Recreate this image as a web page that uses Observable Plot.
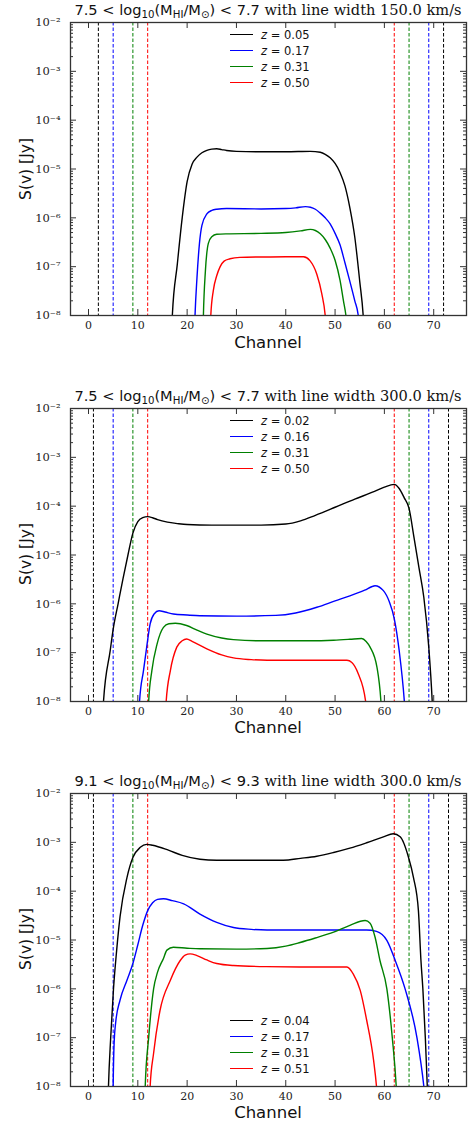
<!DOCTYPE html>
<html><head><meta charset="utf-8">
<script src="https://cdn.jsdelivr.net/npm/d3@7"></script>
<script src="https://cdn.jsdelivr.net/npm/@observablehq/plot@0.6"></script>
<style>
body{margin:0;background:#fff;}
#root{position:relative;width:473px;height:1124px;overflow:hidden;background:#fff;}
.plot{position:absolute;left:0;}
.title{position:absolute;left:0;width:536px;text-align:center;font-size:14.6px;line-height:18px;white-space:nowrap;color:#111;}
.title .m{font-family:"DejaVu Sans";}
.title .t{font-family:"DejaVu Serif";}
.title sub{font-size:70%;vertical-align:-0.28em;line-height:0;}
.ylab{position:absolute;font-family:"DejaVu Sans";font-size:15.5px;white-space:nowrap;transform:translate(-50%,-50%) rotate(-90deg);color:#111;}
.xlab{position:absolute;font-family:"DejaVu Sans";font-size:16.5px;white-space:nowrap;transform:translate(-50%,-50%);color:#111;}
.leg{position:absolute;font-family:"DejaVu Sans";font-size:11.5px;white-space:nowrap;color:#111;}
.leg .sw{position:absolute;left:0;top:-1px;width:23px;height:0;border-top:1.5px solid;}
.leg .tx{position:absolute;left:31px;top:0;transform:translateY(-50%);}
</style></head>
<body><div id="root"></div>
<script>
// ---------- data ----------
const seriesColors = ["#000000", "#0000ff", "#008000", "#ff0000"];
const channelTicks = [0, 10, 20, 30, 40, 50, 60, 70];
const fluxMajorTicks = [1e-8, 1e-7, 1e-6, 1e-5, 1e-4, 1e-3, 1e-2];

// panel 1: 7.5 < log M < 7.7, width 150 km/s
const p1Title = ["7.5", "7.7", "150.0"];
const p1Redshifts = ["0.05", "0.17", "0.31", "0.50"];
const p1Dashes = [[2, 72], [5, 69], [9, 65], [12, 62]];
const p1z005 = [[16.6,1e-9],[17,1e-8],[18,1.1e-7],[19,1e-6],[20,5.5e-6],[21,1.25e-5],[22,1.75e-5],[23,2.15e-5],[24,2.4e-5],[25,2.55e-5],[26,2.6e-5],[27,2.5e-5],[28,2.4e-5],[30,2.3e-5],[35,2.25e-5],[40,2.25e-5],[45,2.3e-5],[47,2.2e-5],[48,2e-5],[49,1.7e-5],[50,1.3e-5],[51,8.5e-6],[52,4.5e-6],[53,1.6e-6],[54,4e-7],[55,5e-8],[55.7,1e-8],[56,3e-9]];
const p1z017 = [[21.3,1e-9],[21.6,1e-8],[22,6e-8],[22.5,3e-7],[23,7e-7],[24,1.2e-6],[25,1.42e-6],[26,1.5e-6],[28,1.55e-6],[35,1.52e-6],[40,1.55e-6],[42,1.6e-6],[44,1.7e-6],[45,1.65e-6],[46,1.5e-6],[47,1.25e-6],[48,1e-6],[49,7.5e-7],[50,4.8e-7],[51,2.8e-7],[52,1.2e-7],[53,5e-8],[54,2e-8],[54.7,1e-8],[55,5e-9]];
const p1z031 = [[23.1,1e-9],[23.3,1e-8],[23.7,8e-8],[24.3,3e-7],[25,4.1e-7],[26,4.6e-7],[28,4.7e-7],[35,4.8e-7],[40,5e-7],[43,5.4e-7],[45,5.8e-7],[46,5.5e-7],[47,4.7e-7],[48,3.6e-7],[49,2.4e-7],[50,1.35e-7],[51,5.3e-8],[51.7,2e-8],[52.2,1e-8],[52.5,5e-9]];
const p1z050 = [[24.6,1e-9],[24.8,1e-8],[25.3,3.2e-8],[26,6.5e-8],[26.7,1e-7],[27.5,1.3e-7],[28.7,1.45e-7],[30.7,1.55e-7],[35,1.58e-7],[40,1.6e-7],[43.6,1.6e-7],[44.9,1.33e-7],[46.3,7e-8],[47.3,2.8e-8],[48,1e-8],[48.3,4e-9]];

// panel 2: 7.5 < log M < 7.7, width 300 km/s
const p2Title = ["7.5", "7.7", "300.0"];
const p2Redshifts = ["0.02", "0.16", "0.31", "0.50"];
const p2Dashes = [[1, 73], [5, 69], [9, 65], [12, 62]];
const p2z002 = [[2.7,1e-9],[3.04,1e-8],[4.4,1.1e-7],[5,3e-7],[6,1e-6],[7,3.3e-6],[8,1e-5],[9,2.8e-5],[10,4.8e-5],[11,5.8e-5],[12,6.1e-5],[13,5.8e-5],[14,5.3e-5],[16,4.7e-5],[18,4.4e-5],[20,4.2e-5],[25,4.1e-5],[30,4.1e-5],[35,4.1e-5],[40,4.3e-5],[43,5e-5],[46,6.5e-5],[50,9.5e-5],[54,1.4e-4],[58,2e-4],[60,2.45e-4],[62,2.8e-4],[63,2.3e-4],[64,1.5e-4],[65,9e-5],[66,2.3e-5],[67,5.6e-6],[68,1.35e-6],[69,1.3e-7],[69.7,1e-8],[70,2e-9]];
const p2z016 = [[10,1e-9],[10.35,1e-8],[11.15,4.3e-8],[11.8,1.3e-7],[12.5,3.9e-7],[13.3,6.2e-7],[14.3,7.2e-7],[15.5,6.8e-7],[17.2,6.2e-7],[20,5.9e-7],[22.6,5.7e-7],[30,5.6e-7],[38,5.8e-7],[42,6.5e-7],[46.3,8.5e-7],[50,1.15e-6],[53,1.46e-6],[56,1.9e-6],[58.1,2.35e-6],[59.8,1.86e-6],[61,1.1e-6],[62,5e-7],[63,1.1e-7],[64.05,1e-8],[64.4,3e-9]];
const p2z031 = [[12,1e-9],[12.2,1e-8],[12.85,4.3e-8],[13.9,1.5e-7],[15.2,3.3e-7],[16.3,3.9e-7],[17.6,4e-7],[19.9,3.6e-7],[22,2.9e-7],[24,2.4e-7],[27,2e-7],[29.4,1.85e-7],[35,1.75e-7],[40,1.75e-7],[45,1.75e-7],[49.7,1.8e-7],[53,1.88e-7],[55.4,1.95e-7],[56.3,1.7e-7],[57.1,1.3e-7],[58.5,5e-8],[59.3,1e-8],[59.6,3e-9]];
const p2z050 = [[15.5,1e-9],[15.75,1e-8],[16.6,4.3e-8],[17.9,1.3e-7],[19,1.75e-7],[19.9,1.9e-7],[21,1.7e-7],[24,1.2e-7],[27,9e-8],[29.4,7.8e-8],[33,7.2e-8],[36.2,7e-8],[45,7e-8],[52.4,7e-8],[53.4,6.3e-8],[54.7,3.7e-8],[56.2,1e-8],[56.5,5e-9]];

// panel 3: 9.1 < log M < 9.3, width 300 km/s
const p3Title = ["9.1", "9.3", "300.0"];
const p3Redshifts = ["0.04", "0.17", "0.31", "0.51"];
const p3Dashes = [[1, 73], [5, 69], [9, 65], [12, 62]];
const p3z004 = [[3.8,1e-9],[4.05,1e-8],[4.5,1e-7],[5.07,1e-6],[5.7,6e-6],[6.4,3e-5],[7.8,1.9e-4],[9,4.9e-4],[10.5,7.9e-4],[11.8,9.1e-4],[13,8.7e-4],[16.2,6.9e-4],[19,5.4e-4],[22.6,4.5e-4],[26,4.3e-4],[30,4.3e-4],[39.5,4.3e-4],[43,4.7e-4],[46.3,5.2e-4],[49.7,6.2e-4],[53,7.6e-4],[56.4,9.8e-4],[59.8,1.29e-3],[61.8,1.5e-3],[63.2,1.3e-3],[64.9,4.9e-4],[65.9,1.9e-4],[66.9,4e-5],[67.4,4e-6],[67.8,1e-6],[68.3,1e-7],[68.7,1e-8],[69,1e-9]];
const p3z017 = [[4.9,1e-9],[5,1e-8],[5.2,8e-8],[5.5,2e-7],[6.4,5.9e-7],[7.8,1.5e-6],[9,3.3e-6],[10,8e-6],[11,2e-5],[12,4e-5],[13,5.8e-5],[14,6.8e-5],[15.2,7e-5],[17,6.4e-5],[19.3,5.5e-5],[22.6,3.4e-5],[26,2.3e-5],[29.4,1.8e-5],[33,1.65e-5],[36.2,1.6e-5],[45,1.6e-5],[56.4,1.6e-5],[58.4,1.5e-5],[60.5,9.8e-6],[62.2,3.8e-6],[64.2,1e-6],[66.6,1e-7],[68,1e-8],[68.3,5e-9]];
const p3z031 = [[11.3,1e-9],[11.5,1e-8],[12.2,1e-7],[13.2,1e-6],[14,2.2e-6],[15.2,4.2e-6],[15.9,6.2e-6],[17.2,7.1e-6],[20,6.8e-6],[22.6,6.6e-6],[30,6.5e-6],[36.2,6.7e-6],[40,7.5e-6],[42.9,8.9e-6],[46,1.1e-5],[49.7,1.45e-5],[53,2e-5],[56.1,2.5e-5],[57.1,2.2e-5],[58.1,1.15e-5],[59.1,3.8e-6],[60.5,1e-6],[61.6,1e-7],[62.4,1e-8],[62.6,4e-9]];
const p3z051 = [[12.3,1e-9],[12.5,1e-8],[13.2,4.8e-8],[14.5,3.6e-7],[16.6,1.5e-6],[18.6,3.8e-6],[19.6,4.9e-6],[20.6,5.2e-6],[22,4.8e-6],[24,3.9e-6],[26,3.3e-6],[29.4,3e-6],[36,2.85e-6],[45,2.8e-6],[52.4,2.8e-6],[53.7,2e-6],[55.1,9.3e-7],[56.4,2.3e-7],[57.8,3.5e-8],[58.4,1e-8],[58.7,4e-9]];

// ---------- drawing ----------
const W = 473, H = 340, MT = 22, MB = 25, ML = 70, MR = 7;
const FH = H - MT - MB, FW = W - ML - MR;
const sup = n => String(n).replace(/-/g, "⁻").replace(/\d/g, d => "⁰¹²³⁴⁵⁶⁷⁸⁹"[d]);
const minorTicks = fluxMajorTicks.slice(0, -1).flatMap(t => [2,3,4,5,6,7,8,9].map(k => k * t));
const root = document.getElementById("root");

function panel(top, titleParts, redshifts, dashes, series, legendTop) {
  const marks = [];
  dashes.forEach((xs, i) => marks.push(Plot.ruleX(xs, {x: d => d, stroke: seriesColors[i], strokeWidth: 1, strokeDasharray: "3.5,2"})));
  series.forEach((s, i) => marks.push(Plot.line(s, {x: d => d[0], y: d => d[1], stroke: seriesColors[i], strokeWidth: 1.4, curve: "monotone-x", clip: true})));
  const tk = {stroke: "#333", strokeWidth: 1};
  marks.push(
    Plot.tickX(channelTicks, {x: d => d, insetTop: FH - 6, ...tk}),
    Plot.tickX(channelTicks, {x: d => d, insetBottom: FH - 6, ...tk}),
    Plot.tickY(fluxMajorTicks, {y: d => d, insetRight: FW - 6, ...tk}),
    Plot.tickY(fluxMajorTicks, {y: d => d, insetLeft: FW - 6, ...tk}),
    Plot.tickY(minorTicks, {y: d => d, insetRight: FW - 3, ...tk}),
    Plot.tickY(minorTicks, {y: d => d, insetLeft: FW - 3, ...tk}),
    Plot.axisX({ticks: channelTicks, tickSize: 0, tickPadding: 6, label: null, fontSize: 11, fontFamily: "DejaVu Serif"}),
    Plot.axisY({ticks: fluxMajorTicks, tickSize: 0, tickPadding: 10, label: null, fontSize: 11.5, fontFamily: "DejaVu Serif", tickFormat: d => "10" + sup(Math.round(Math.log10(d)))}),
    Plot.frame({stroke: "#333", strokeWidth: 1.3})
  );
  const svg = Plot.plot({
    width: W, height: H, marginTop: MT, marginBottom: MB, marginLeft: ML, marginRight: MR,
    x: {domain: [-3.65, 76.65]},
    y: {type: "log", domain: [1e-8, 1e-2]},
    style: {background: "transparent", color: "#222", fontFamily: "DejaVu Serif"},
    marks
  });
  svg.classList.add("plot");
  svg.style.top = top + "px";
  root.appendChild(svg);

  const t = document.createElement("div");
  t.className = "title";
  t.style.top = (top + 1.3) + "px";
  t.innerHTML = `<span class="m">${titleParts[0]} &lt; log<sub>10</sub>(M<sub>HI</sub>/M<sub>⊙</sub>) &lt; ${titleParts[1]}</span><span class="t"> with line width ${titleParts[2]} km/s</span>`;
  root.appendChild(t);

  const yl = document.createElement("div");
  yl.className = "ylab";
  yl.style.left = "25.5px";
  yl.style.top = (top + MT + FH / 2) + "px";
  yl.textContent = "S(v) [Jy]";
  root.appendChild(yl);

  const xl = document.createElement("div");
  xl.className = "xlab";
  xl.style.left = "268px";
  xl.style.top = (top + 341.7) + "px";
  xl.textContent = "Channel";
  root.appendChild(xl);

  redshifts.forEach((z, i) => {
    const g = document.createElement("div");
    g.className = "leg";
    g.style.left = "230px";
    g.style.top = (top + legendTop + i * 16) + "px";
    g.innerHTML = `<span class="sw" style="border-color:${seriesColors[i]}"></span><span class="tx"><i>z</i> = ${z}</span>`;
    root.appendChild(g);
  });
}

panel(0, p1Title, p1Redshifts, p1Dashes, [p1z005, p1z017, p1z031, p1z050], 35);
panel(385.5, p2Title, p2Redshifts, p2Dashes, [p2z002, p2z016, p2z031, p2z050], 35.5);
panel(770.6, p3Title, p3Redshifts, p3Dashes, [p3z004, p3z017, p3z031, p3z051], 250.4);
</script>
</body></html>
